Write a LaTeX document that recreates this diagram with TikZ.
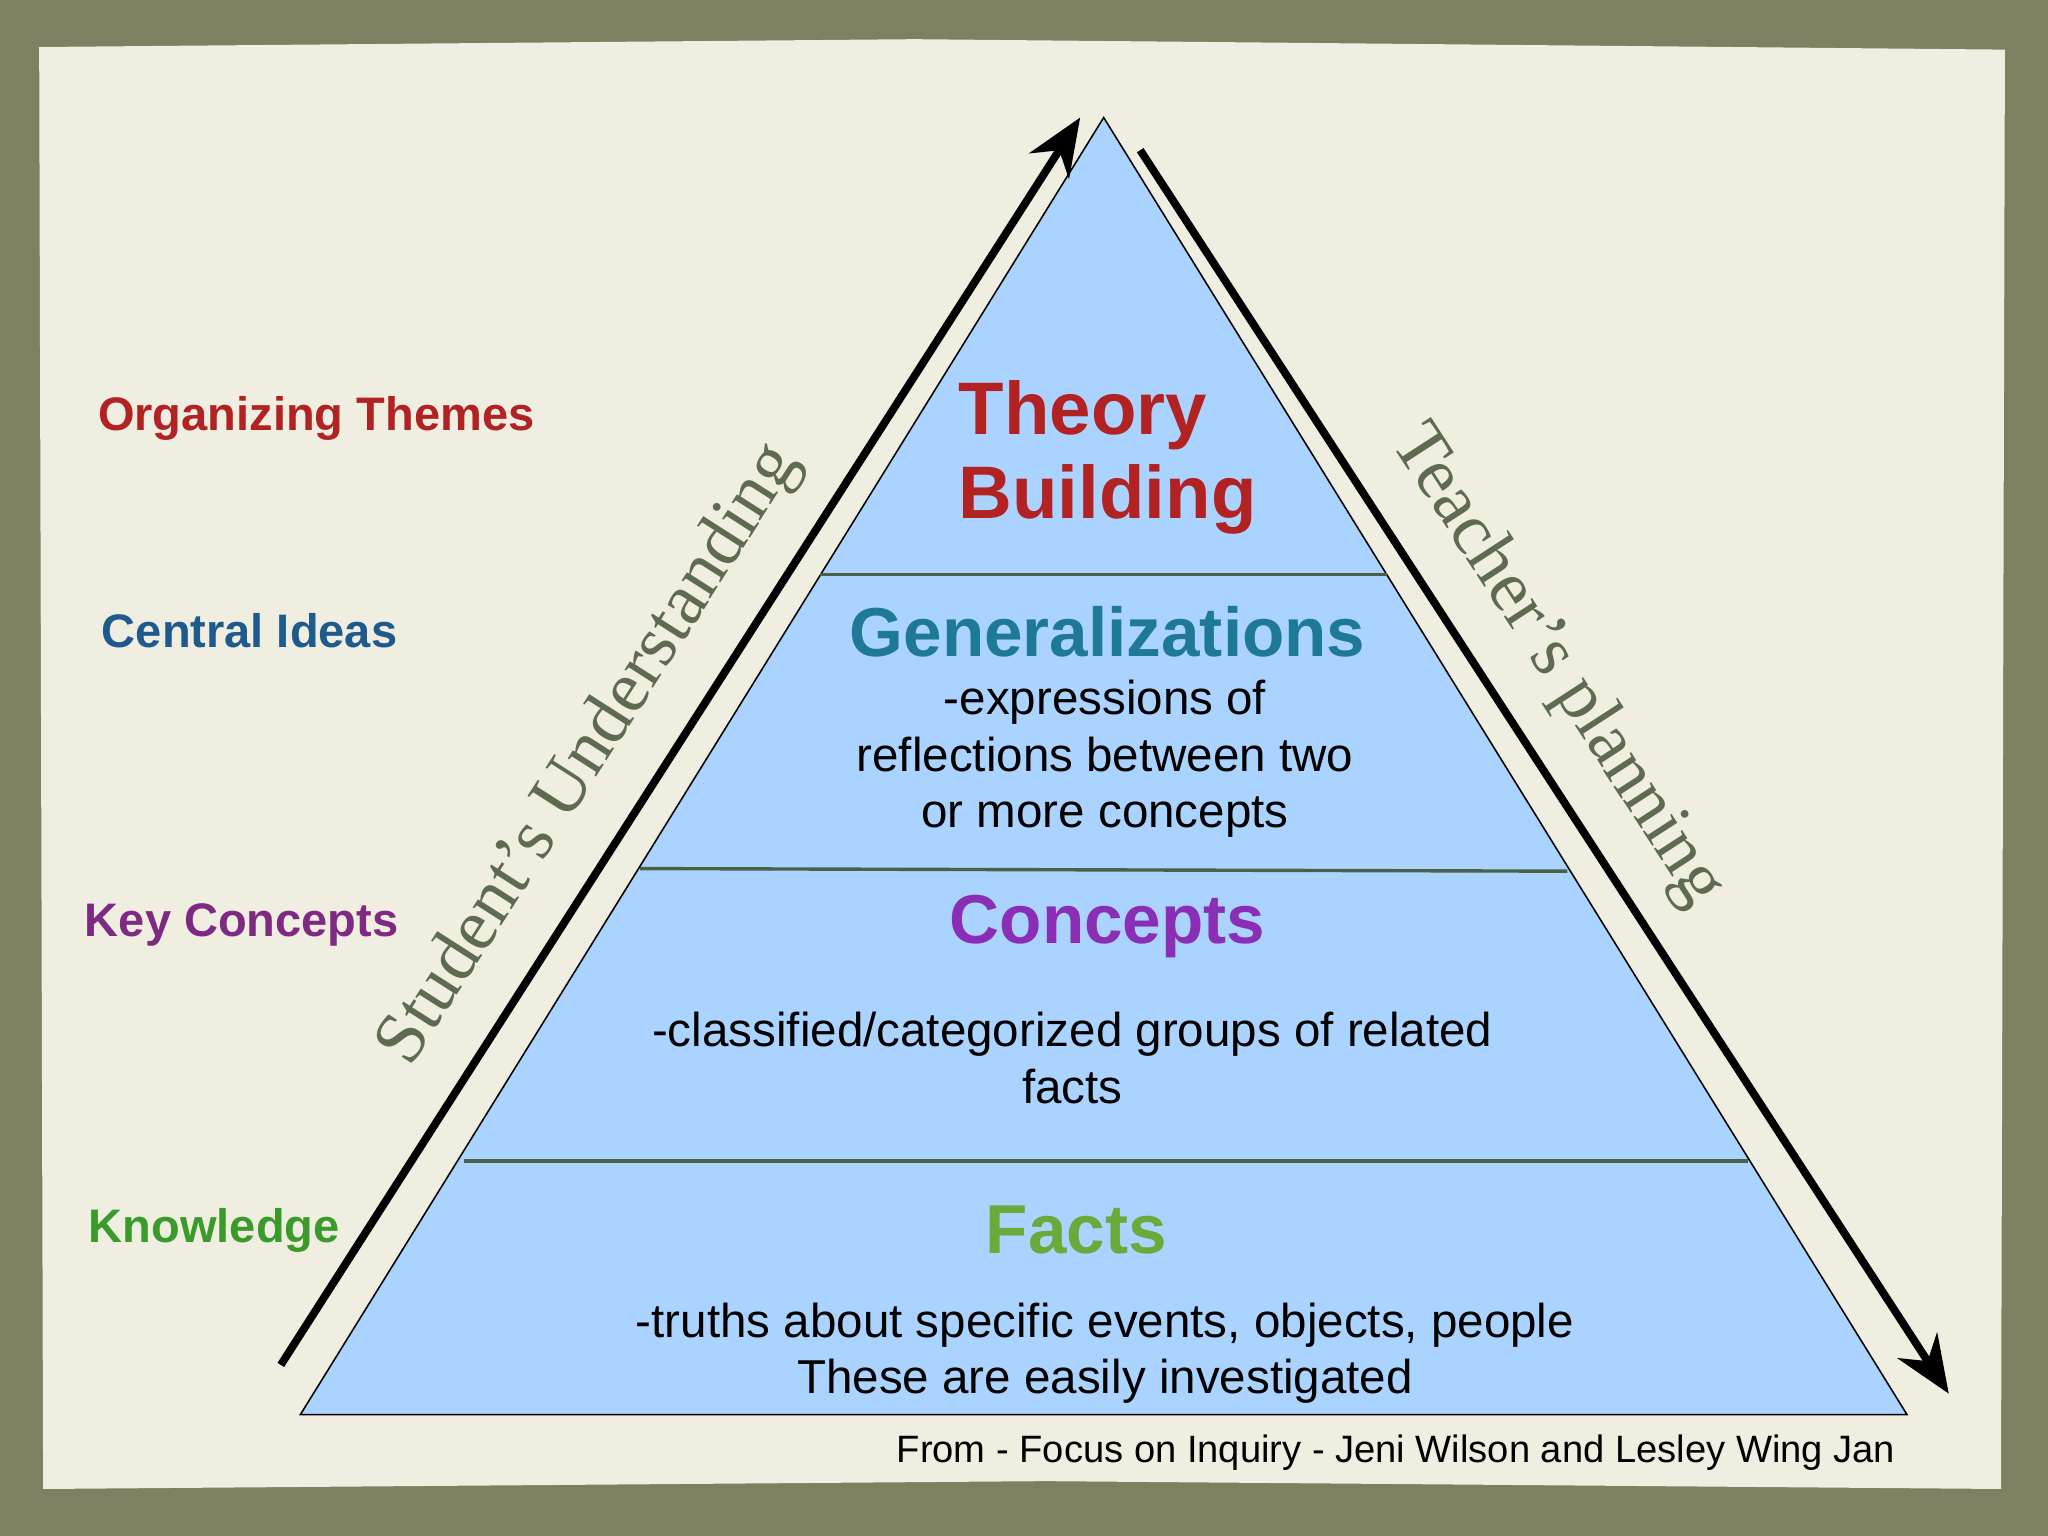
\documentclass[tikz,border=0pt]{standalone}
\usepackage{fontspec}
\setmainfont{Liberation Sans}
\newfontfamily\serifont{Liberation Serif}
\usetikzlibrary{arrows.meta}
\definecolor{bgol}{HTML}{7F7F62}
\definecolor{paper}{HTML}{EFEEE1}
\definecolor{pyr}{HTML}{AAD4FF}
\definecolor{sep}{HTML}{4A6048}
\definecolor{cred}{HTML}{B22222}
\definecolor{cblue}{HTML}{1F5A8C}
\definecolor{cteal}{HTML}{1E7898}
\definecolor{cpurp}{HTML}{7E2A82}
\definecolor{cpurp2}{HTML}{8A2EB5}
\definecolor{cgreen}{HTML}{3A9A2A}
\definecolor{cgreen2}{HTML}{6AAA3A}
\definecolor{sgray}{HTML}{5E6B50}
\tikzset{
 side/.style={font=\fontsize{18}{20}\selectfont\bfseries, anchor=west},
 body/.style={font=\fontsize{18.2}{21.5}\selectfont, align=center, text=black},
 title/.style={font=\fontsize{26.5}{32}\selectfont\bfseries, align=center},
 sepline/.style={draw=sep, line width=1.3pt},
 bigarrow/.style={line width=3pt, -{Stealth[length=22pt,width=18pt]}, black},
 rot/.style={font=\serifont\fontsize{28}{30}\selectfont, text=sgray}
}
\begin{document}
\begin{tikzpicture}[x=0.5pt,y=-0.5pt]
\fill[bgol] (0,0) rectangle (1568,1176);
\fill[paper] (30,36) -- (700,30) -- (1535,38) -- (1532,1140) -- (800,1134) -- (33,1140) -- cycle;
\draw[fill=pyr, draw=black, line width=0.6pt] (845,90) -- (1460,1083) -- (230,1083) -- cycle;
\draw[sepline] (628,440) -- (1062,440);
\draw[sepline] (490,665) -- (1200,667);
\draw[sepline] (355,889) -- (1338,889);
\coordinate (la) at (215,1045); \coordinate (lb) at (827,90);
\coordinate (ra) at (873,115); \coordinate (rb) at (1492,1067);
\draw[bigarrow] (la) -- (lb);
\draw[bigarrow] (ra) -- (rb);
\node[rot, rotate=57.4] (su) at (452,578) {Student’s Understanding};
\node[rot, rotate=-57] (tp) at (1192,510) {Teacher’s planning};
\node[side, text=cred] (l1) at (68,320) {Organizing Themes};
\node[side, text=cblue] (l2) at (71,483) {Central Ideas};
\node[side, text=cpurp] (l3) at (58,708) {Key Concepts};
\node[side, text=cgreen] (l4) at (61,942) {Knowledge};
\node[title, text=cred, font=\fontsize{28.5}{32}\selectfont\bfseries, align=left] (tb) at (848,350) {Theory\\Building};
\node[title, text=cteal] (ge) at (848,484) {Generalizations};
\node[body] (gb) at (846,581) {-expressions of\\reflections between two\\or more concepts};
\node[title, text=cpurp2] (co) at (848,709) {Concepts};
\node[body] (cb) at (821,810) {-classified/categorized groups of related\\facts};
\node[title, text=cgreen2] (fa) at (824,942) {Facts};
\node[body] (fb) at (846,1036) {-truths about specific events, objects, people\\These are easily investigated};
\node[font=\fontsize{14.6}{16}\selectfont, anchor=east] (ft) at (1458,1112) {From - Focus on Inquiry - Jeni Wilson and Lesley Wing Jan};
\end{tikzpicture}
\end{document}
